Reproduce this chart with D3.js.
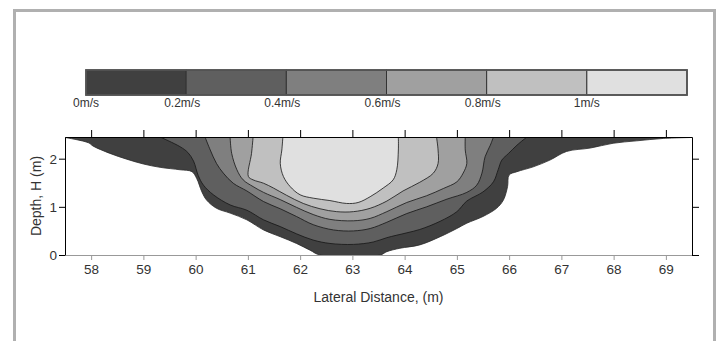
<!DOCTYPE html>
<html>
<head>
<meta charset="utf-8">
<script src="https://cdnjs.cloudflare.com/ajax/libs/d3/7.8.5/d3.min.js"></script>
<style>
  body { margin: 0; background: #fff; }
  svg { display: block; font-family: "Liberation Sans", Arial, sans-serif; }
</style>
</head>
<body>
<div id="chart"></div>
<script>
// velocity levels (m/s), legend labels and band fills
const levels = [0, 0.2, 0.4, 0.6, 0.8, 1.0];
const levelLabels = ['0m/s', '0.2m/s', '0.4m/s', '0.6m/s', '0.8m/s', '1m/s'];
const fills = ['#404040', '#5f5f5f', '#7f7f7f', '#a0a0a0', '#c0c0c0', '#e0e0e0'];
const xTicks = [58, 59, 60, 61, 62, 63, 64, 65, 66, 67, 68, 69];
const yTicks = [0, 1, 2];
const surface = 2.45;

// contour lines as [lateral distance (m), depth (m)], left bank to right bank
const bed = [[57.5,2.44],[57.95,2.33],[58.04,2.26],[58.36,2.11],[58.68,1.99],[59.0,1.89],[59.32,1.82],
  [59.7,1.77],[59.93,1.73],[60.02,1.59],[60.12,1.31],[60.21,1.14],[60.4,0.97],[60.66,0.87],[60.98,0.73],
  [61.3,0.52],[61.62,0.38],[61.93,0.24],[62.19,0.1],[62.38,0],[63.53,0],[63.66,0.07],[63.91,0.14],
  [64.29,0.21],[64.68,0.38],[65.0,0.55],[65.19,0.66],[65.5,0.8],[65.76,0.97],[65.89,1.14],[65.97,1.42],
  [66.0,1.66],[66.15,1.73],[66.46,1.83],[66.78,1.97],[67.1,2.15],[67.55,2.22],[67.99,2.32],[68.44,2.37],
  [68.95,2.42],[69.5,2.44]];
const c02 = [[59.32,2.45],[59.7,2.25],[59.85,2.13],[59.96,1.95],[60.05,1.65],[60.15,1.45],[60.34,1.25],
  [60.66,1.04],[60.98,0.93],[61.3,0.73],[61.62,0.59],[61.93,0.44],[62.25,0.31],[62.57,0.24],[63.02,0.22],
  [63.4,0.27],[63.66,0.36],[64.04,0.46],[64.29,0.53],[64.68,0.7],[65.0,0.9],[65.19,1.12],[65.5,1.31],
  [65.7,1.52],[65.79,1.77],[65.86,1.97],[65.99,2.11],[66.15,2.28],[66.34,2.45]];
const c04 = [[60.18,2.45],[60.28,2.18],[60.4,1.9],[60.53,1.7],[60.72,1.49],[60.98,1.33],[61.3,1.11],
  [61.62,0.96],[61.93,0.8],[62.25,0.63],[62.64,0.52],[63.02,0.5],[63.34,0.55],[63.66,0.68],[64.04,0.86],
  [64.42,1.0],[64.81,1.16],[65.19,1.3],[65.38,1.45],[65.48,1.7],[65.54,2.04],[65.64,2.28],[65.7,2.45]];
const c06 = [[60.66,2.45],[60.69,2.11],[60.79,1.77],[60.91,1.56],[61.1,1.42],[61.3,1.3],[61.62,1.15],
  [61.93,0.99],[62.25,0.84],[62.57,0.74],[63.02,0.71],[63.34,0.76],[63.66,0.9],[64.04,1.09],[64.42,1.23],
  [64.74,1.38],[65.0,1.52],[65.12,1.7],[65.19,1.9],[65.16,2.18],[65.16,2.45]];
const c08 = [[61.1,2.45],[61.07,2.11],[61.01,1.63],[61.1,1.56],[61.3,1.49],[61.49,1.39],[61.74,1.24],
  [62.06,1.07],[62.38,0.96],[62.7,0.9],[63.02,0.9],[63.34,0.97],[63.66,1.12],[63.97,1.33],[64.29,1.51],
  [64.55,1.7],[64.64,1.9],[64.64,2.18],[64.61,2.45]];
const c10 = [[61.67,2.45],[61.65,2.18],[61.62,1.9],[61.68,1.63],[61.81,1.42],[62.0,1.25],[62.25,1.18],
  [62.57,1.13],[62.89,1.07],[63.11,1.09],[63.34,1.21],[63.59,1.39],[63.78,1.56],[63.85,1.77],[63.88,2.18],
  [63.88,2.45]];
const contours = [bed, c02, c04, c06, c08, c10];

const W = 721, H = 341;
const plot = { left: 65, right: 692, top: 137, bottom: 255 };

const svg = d3.select('#chart').append('svg').attr('width', W).attr('height', H);

// outer gray frame
svg.append('rect')
  .attr('x', 14.5).attr('y', 10.5).attr('width', 700).attr('height', 400)
  .attr('fill', 'none').attr('stroke', '#b0b0b0').attr('stroke-width', 3);

const x = d3.scaleLinear().domain([57.5, 69.5]).range([plot.left, plot.right]);
const y = d3.scaleLinear().domain([0, surface]).range([plot.bottom, plot.top]);

svg.append('clipPath').attr('id', 'clip').append('rect')
  .attr('x', plot.left).attr('y', plot.top)
  .attr('width', plot.right - plot.left).attr('height', plot.bottom - plot.top);

const line = d3.line()
  .x(d => x(d[0])).y(d => y(d[1]))
  .curve(d3.curveCatmullRom.alpha(0.5));

const bands = svg.append('g').attr('clip-path', 'url(#clip)');
contours.forEach((c, i) => {
  bands.append('path').attr('d', line(c) + 'Z').attr('fill', fills[i]);
});
contours.forEach((c, i) => {
  bands.append('path').attr('d', line(c)).attr('fill', 'none')
    .attr('stroke', i === 0 ? '#2a2a2a' : '#151515').attr('stroke-width', 0.8);
});

// axes
const styleAxis = (g, color) => {
  g.selectAll('path, line').attr('stroke', color);
  g.selectAll('text').attr('fill', '#333').style('font-size', '13.5px').style('font-family', 'Liberation Sans, Arial, sans-serif');
};

svg.append('g').attr('transform', `translate(0,${plot.bottom})`)
  .call(d3.axisBottom(x).tickValues(xTicks).tickSize(5).tickSizeOuter(0).tickPadding(4).tickFormat(d3.format('d')))
  .call(g => styleAxis(g, '#999'));
svg.append('g').attr('transform', `translate(0,${plot.top})`)
  .call(d3.axisTop(x).tickValues(xTicks).tickSize(7).tickSizeOuter(0).tickFormat(''))
  .call(g => styleAxis(g, '#000'));
svg.append('g').attr('transform', `translate(${plot.left},0)`)
  .call(d3.axisLeft(y).tickValues(yTicks).tickSize(6).tickSizeOuter(0).tickPadding(2).tickFormat(d3.format('d')))
  .call(g => styleAxis(g, '#000'));
svg.append('g').attr('transform', `translate(${plot.right},0)`)
  .call(d3.axisRight(y).tickValues(yTicks).tickSize(7).tickSizeOuter(0).tickFormat(''))
  .call(g => styleAxis(g, '#000'));

svg.append('text')
  .attr('x', (plot.left + plot.right) / 2).attr('y', 302)
  .attr('text-anchor', 'middle').attr('fill', '#333').style('font-size', '14px')
  .text('Lateral Distance, (m)');
svg.append('text')
  .attr('transform', `translate(41,${(plot.top + plot.bottom) / 2}) rotate(-90)`)
  .attr('text-anchor', 'middle').attr('fill', '#333').style('font-size', '14px')
  .text('Depth, H (m)');

// colour bar legend
const lx = d3.scaleLinear().domain([0, 1.2]).range([86, 687]);
const legend = svg.append('g');
legend.selectAll('rect.seg').data(levels).enter().append('rect')
  .attr('class', 'seg')
  .attr('x', d => lx(d)).attr('y', 70)
  .attr('width', d => lx(d + 0.2) - lx(d)).attr('height', 25)
  .attr('fill', (d, i) => fills[i])
  .attr('stroke', '#333').attr('stroke-width', 1);
legend.append('rect')
  .attr('x', lx(0)).attr('y', 70).attr('width', lx(1.2) - lx(0)).attr('height', 25)
  .attr('fill', 'none').attr('stroke', '#555').attr('stroke-width', 1.8);
legend.selectAll('text').data(levels).enter().append('text')
  .attr('x', d => lx(d) - (d > 0 && d < 1 ? 4 : 0)).attr('y', 107)
  .attr('text-anchor', 'middle').attr('fill', '#333').style('font-size', '12px')
  .text((d, i) => levelLabels[i]);
</script>
</body>
</html>
